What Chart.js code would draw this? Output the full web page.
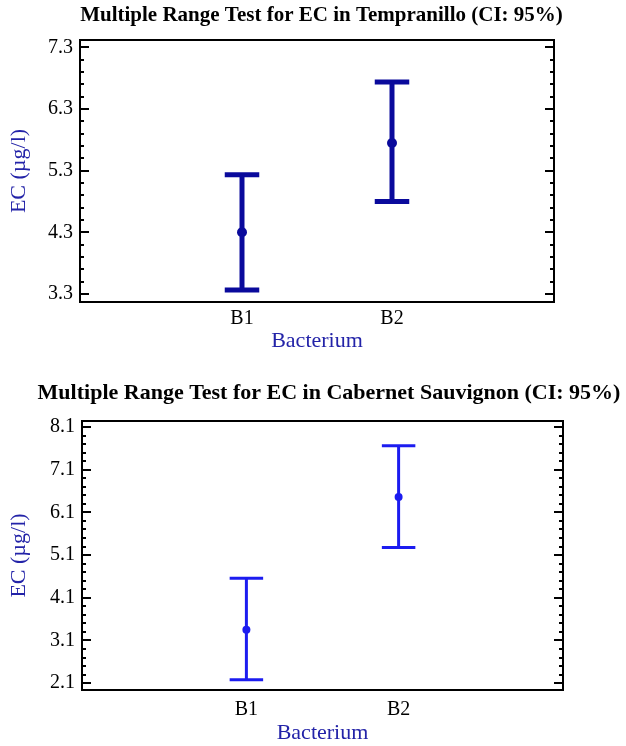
<!DOCTYPE html>
<html>
<head>
<meta charset="utf-8">
<script src="https://cdn.jsdelivr.net/npm/chart.js@4/dist/chart.umd.min.js"></script>
<style>
html, body { margin: 0; padding: 0; background: #fff; overflow: hidden; width: 626px; height: 746px; }
#box1 { position: absolute; left: 0; top: 0; width: 643px; height: 365px; }
#box2 { position: absolute; left: 0; top: 365px; width: 658px; height: 381px; }
</style>
</head>
<body>
<div id="box1"><canvas id="c1"></canvas></div>
<div id="box2"><canvas id="c2"></canvas></div>
<script>
var categories = ['B1', 'B2'];

// Tempranillo
var tempMeans = [4.30, 5.75];
var tempLower = [3.365, 4.80];
var tempUpper = [5.235, 6.74];
var tempTicks = [3.3, 4.3, 5.3, 6.3, 7.3];

// Cabernet Sauvignon
var cabMeans = [3.35, 6.46];
var cabLower = [2.18, 5.28];
var cabUpper = [4.56, 7.66];
var cabTicks = [2.1, 3.1, 4.1, 5.1, 6.1, 7.1, 8.1];

var minorStep = 0.2;
var serif = "'Liberation Serif', 'Times New Roman', serif";
var axisBlue = '#2323a8';

function r1(v) { return Math.round(v * 10) / 10; }

function isMajor(v, majors) {
    return majors.some(function(m) { return Math.abs(m - v) < 1e-6; });
}

// frame + inward ticks on both sides
var framePlugin = {
    id: 'frame',
    afterDraw: function(chart) {
        var ctx = chart.ctx, a = chart.chartArea, y = chart.scales.y;
        var majors = chart.options.majors;
        ctx.save();
        ctx.strokeStyle = '#000';
        ctx.lineWidth = 2;
        ctx.strokeRect(a.left, a.top, a.right - a.left, a.bottom - a.top);
        y.ticks.forEach(function(t) {
            var py = Math.round(y.getPixelForValue(t.value));
            var len = isMajor(t.value, majors) ? 9 : 4;
            ctx.beginPath();
            ctx.moveTo(a.left, py); ctx.lineTo(a.left + len, py);
            ctx.moveTo(a.right, py); ctx.lineTo(a.right - len, py);
            ctx.stroke();
        });
        ctx.restore();
    }
};

function segment(points, color, lw) {
    return { data: points, showLine: true, borderColor: color, borderWidth: lw,
             pointRadius: 0, fill: false, borderCapStyle: 'butt' };
}

function makeChart(id, cfg) {
    var sets = [];
    categories.forEach(function(c, i) {
        var x = i + 1;
        sets.push(segment([{x: x, y: cfg.lower[i]}, {x: x, y: cfg.upper[i]}], cfg.color, cfg.lw));
        sets.push(segment([{x: x - cfg.cap, y: cfg.upper[i]}, {x: x + cfg.cap, y: cfg.upper[i]}], cfg.color, cfg.lw));
        sets.push(segment([{x: x - cfg.cap, y: cfg.lower[i]}, {x: x + cfg.cap, y: cfg.lower[i]}], cfg.color, cfg.lw));
    });
    sets.push({
        data: cfg.means.map(function(m, i) { return {x: i + 1, y: m}; }),
        showLine: false, pointRadius: cfg.dot, pointHoverRadius: cfg.dot,
        backgroundColor: cfg.color, borderColor: cfg.color, borderWidth: 0
    });

    return new Chart(document.getElementById(id), {
        type: 'scatter',
        data: { datasets: sets },
        plugins: [framePlugin],
        options: {
            majors: cfg.ticks,
            responsive: true,
            maintainAspectRatio: false,
            devicePixelRatio: 1,
            animation: false,
            layout: { padding: 0 },
            plugins: {
                legend: { display: false },
                tooltip: { enabled: false },
                title: {
                    display: true, text: cfg.title, color: '#000',
                    font: { family: serif, size: cfg.titleSize, weight: 'bold' },
                    padding: { top: cfg.titleTop, bottom: cfg.titleBottom }
                }
            },
            scales: {
                x: {
                    type: 'linear', position: 'bottom', min: -0.08, max: 3.08,
                    afterBuildTicks: function(s) {
                        s.ticks = categories.map(function(c, i) { return {value: i + 1}; });
                    },
                    ticks: {
                        autoSkip: false, maxRotation: 0, color: '#000', padding: cfg.xTickPad,
                        font: { family: serif, size: 20 },
                        callback: function(v) { return categories[v - 1] || ''; }
                    },
                    grid: { display: false, drawTicks: false, tickLength: 0 },
                    border: { display: false },
                    title: {
                        display: true, text: 'Bacterium', color: axisBlue,
                        font: { family: serif, size: 22 },
                        padding: { top: 0, bottom: cfg.xTitlePad }
                    },
                    afterFit: function(s) { s.height = cfg.xHeight; }
                },
                y: {
                    type: 'linear', position: 'left', min: cfg.yMin, max: cfg.yMax,
                    afterBuildTicks: function(s) {
                        var out = [];
                        var first = cfg.ticks[0], last = cfg.ticks[cfg.ticks.length - 1];
                        for (var k = 0; r1(first + k * minorStep) <= last + 1e-9; k++) {
                            out.push({value: r1(first + k * minorStep)});
                        }
                        s.ticks = out;
                    },
                    ticks: {
                        autoSkip: false, color: '#000', padding: 7,
                        font: { family: serif, size: 20 },
                        callback: function(v) { return isMajor(v, cfg.ticks) ? v.toFixed(1) : ''; }
                    },
                    grid: { display: false, drawTicks: false, tickLength: 0 },
                    border: { display: false },
                    title: {
                        display: true, text: 'EC (µg/l)', color: axisBlue,
                        font: { family: serif, size: 22 },
                        padding: { top: 6, bottom: 0 }
                    },
                    afterFit: function(s) { s.width = cfg.yWidth; }
                },
                r: {
                    type: 'linear', position: 'right', display: true,
                    ticks: { display: false }, grid: { display: false }, border: { display: false },
                    afterFit: function(s) { s.width = cfg.rWidth; }
                }
            }
        }
    });
}

makeChart('c1', {
    title: 'Multiple Range Test for EC in Tempranillo (CI: 95%)',
    means: tempMeans, lower: tempLower, upper: tempUpper, ticks: tempTicks,
    yMin: 3.17, yMax: 7.42,
    color: '#0a0a9c', lw: 5, cap: 0.115, dot: 5,
    titleSize: 21, titleTop: 3.4, titleBottom: 11.4,
    xHeight: 63, xTickPad: 5, xTitlePad: 10.8,
    yWidth: 80, rWidth: 89
});

makeChart('c2', {
    title: 'Multiple Range Test for EC in Cabernet Sauvignon (CI: 95%)',
    means: cabMeans, lower: cabLower, upper: cabUpper, ticks: cabTicks,
    yMin: 1.94, yMax: 8.24,
    color: '#1c1cf0', lw: 3, cap: 0.11, dot: 4,
    titleSize: 22, titleTop: 14.8, titleBottom: 14.8,
    xHeight: 56, xTickPad: 8, xTitlePad: 0,
    yWidth: 82, rWidth: 95
});
</script>
</body>
</html>
